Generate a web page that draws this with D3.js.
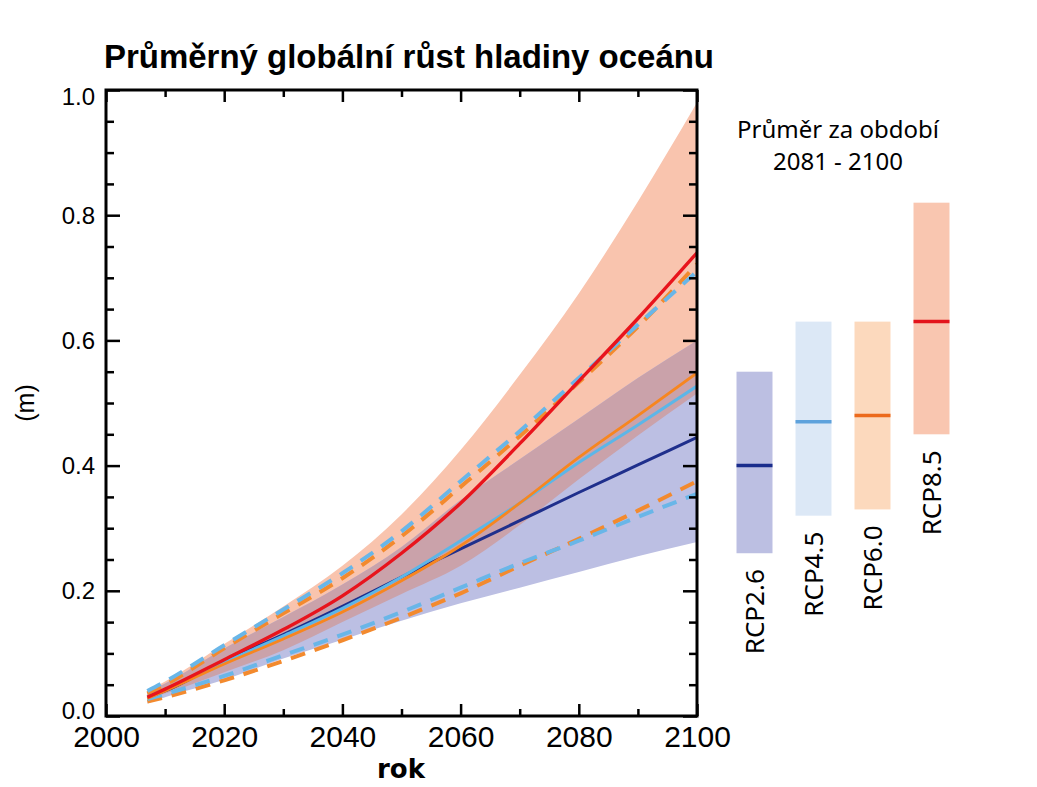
<!DOCTYPE html>
<html>
<head>
<meta charset="utf-8">
<script src="https://cdn.jsdelivr.net/npm/d3@7"></script>
<style>
  body { margin: 0; background: #fff; }
  svg { display: block; }
</style>
</head>
<body>
<svg id="viz"></svg>
<script>
// data (metres of sea level rise)
const years = [2007, 2010, 2020, 2030, 2040, 2050, 2060, 2070, 2080, 2090, 2100];

const rcp85Mean = [0.030, 0.043, 0.090, 0.138, 0.192, 0.260, 0.340, 0.435, 0.535, 0.635, 0.740];
const rcp85High = [0.040, 0.055, 0.115, 0.175, 0.240, 0.322, 0.425, 0.545, 0.675, 0.822, 0.980];
const rcp85Low  = [0.028, 0.036, 0.070, 0.105, 0.150, 0.195, 0.240, 0.305, 0.378, 0.448, 0.515];

const rcp26Mean = [0.030, 0.040, 0.088, 0.130, 0.175, 0.222, 0.267, 0.312, 0.357, 0.401, 0.445];
const rcp26High = [0.038, 0.052, 0.108, 0.158, 0.210, 0.270, 0.345, 0.410, 0.475, 0.540, 0.600];
const rcp26Low  = [0.020, 0.030, 0.058, 0.092, 0.122, 0.152, 0.180, 0.205, 0.230, 0.255, 0.278];

const rcp45Mean = [0.030, 0.042, 0.086, 0.128, 0.172, 0.222, 0.280, 0.340, 0.405, 0.465, 0.527];
const rcp45High = [0.040, 0.055, 0.113, 0.170, 0.228, 0.295, 0.375, 0.455, 0.540, 0.625, 0.710];
const rcp45Low  = [0.027, 0.035, 0.064, 0.097, 0.130, 0.166, 0.205, 0.244, 0.280, 0.318, 0.355];

const rcp60Mean = [0.028, 0.040, 0.083, 0.123, 0.166, 0.216, 0.272, 0.340, 0.413, 0.480, 0.548];
const rcp60High = [0.036, 0.050, 0.108, 0.164, 0.220, 0.287, 0.366, 0.447, 0.533, 0.622, 0.722];
const rcp60Low  = [0.023, 0.030, 0.057, 0.088, 0.121, 0.157, 0.196, 0.240, 0.283, 0.328, 0.375];

// 2081-2100 averages
const scenarios = ["RCP2.6", "RCP4.5", "RCP6.0", "RCP8.5"];
const barMean = [0.40, 0.47, 0.48, 0.63];
const barLow  = [0.26, 0.32, 0.33, 0.45];
const barHigh = [0.55, 0.63, 0.63, 0.82];

const xTicks = [2000, 2020, 2040, 2060, 2080, 2100];
const yTicks = [0.0, 0.2, 0.4, 0.6, 0.8, 1.0];

const width = 1037, height = 787;
const svg = d3.select("#viz").attr("width", width).attr("height", height);

const pLeft = 106, pRight = 697, pTop = 90, pBottom = 716;

const x = d3.scaleLinear().domain([2000, 2100]).range([pLeft, pRight]);
const y = d3.scaleLinear().domain([0, 1]).range([pBottom, pTop]);

svg.append("clipPath").attr("id", "plotclip")
  .append("rect").attr("x", pLeft).attr("y", pTop)
  .attr("width", pRight - pLeft).attr("height", pBottom - pTop);

const plot = svg.append("g").attr("clip-path", "url(#plotclip)");

// shaded ranges
const band = (lo, hi) => years.map((yr, i) => ({yr: yr, lo: lo[i], hi: hi[i]}));
const area = d3.area()
  .x(d => x(d.yr)).y0(d => y(d.lo)).y1(d => y(d.hi))
  .curve(d3.curveMonotoneX);

plot.append("path").attr("d", area(band(rcp85Low, rcp85High))).attr("fill", "#f9c4ae");
plot.append("path").attr("d", area(band(rcp26Low, rcp26High))).attr("fill", "#bcbfe3");

// where the two ranges overlap
const overlapLo = years.map((yr, i) => Math.max(rcp85Low[i], rcp26Low[i]));
const overlapHi = years.map((yr, i) => Math.min(rcp85High[i], rcp26High[i]));
plot.append("path").attr("d", area(band(overlapLo, overlapHi))).attr("fill", "#caa2aa");

const line = d3.line().x(d => x(d.yr)).y(d => y(d.v)).curve(d3.curveMonotoneX);
const series = vals => years.map((yr, i) => ({yr: yr, v: vals[i]}));

// dashed ranges of RCP4.5 and RCP6.0
[[rcp60High, "#f38a2e"], [rcp60Low, "#f38a2e"], [rcp45High, "#69b6e8"], [rcp45Low, "#69b6e8"]]
  .forEach(([vals, col]) => {
    plot.append("path").attr("d", line(series(vals)))
      .attr("fill", "none").attr("stroke", col)
      .attr("stroke-width", 4).attr("stroke-dasharray", "15,10");
  });

// means
[[rcp26Mean, "#1f2f8c", 3], [rcp45Mean, "#5cb6e8", 3], [rcp60Mean, "#f7861f", 2.8], [rcp85Mean, "#e8141c", 3.4]]
  .forEach(([vals, col, w]) => {
    plot.append("path").attr("d", line(series(vals)))
      .attr("fill", "none").attr("stroke", col).attr("stroke-width", w);
  });

// frame and ticks
const tickStyle = g => {
  g.select(".domain").remove();
  g.selectAll("line").attr("stroke", "#000").attr("stroke-width", 2.5);
};
const xMinor = d3.range(2010, 2100, 20);
const yMinor = d3.range(0.05, 1, 0.05).filter(v => Math.abs(v * 5 - Math.round(v * 5)) > 1e-6);

svg.append("g").attr("transform", `translate(0,${pBottom})`)
  .call(d3.axisBottom(x).tickValues(xTicks).tickSize(-12).tickFormat(d3.format("d")))
  .call(tickStyle)
  .call(g => g.selectAll("text").attr("y", 10).attr("font-family", "Liberation Sans Narrow, Liberation Sans")
    .attr("font-size", 30).attr("fill", "#000"));
svg.append("g").attr("transform", `translate(0,${pBottom})`)
  .call(d3.axisBottom(x).tickValues(xMinor).tickSize(-7).tickFormat(""))
  .call(tickStyle);
svg.append("g").attr("transform", `translate(0,${pTop})`)
  .call(d3.axisTop(x).tickValues(xTicks).tickSize(-12).tickFormat(""))
  .call(tickStyle);
svg.append("g").attr("transform", `translate(0,${pTop})`)
  .call(d3.axisTop(x).tickValues(xMinor).tickSize(-7).tickFormat(""))
  .call(tickStyle);

svg.append("g").attr("transform", `translate(${pLeft},0)`)
  .call(d3.axisLeft(y).tickValues(yTicks).tickSize(-14).tickFormat(d3.format(".1f")))
  .call(tickStyle)
  .call(g => g.selectAll("text").attr("x", -11).attr("font-family", "Liberation Sans")
    .attr("font-size", 24).attr("fill", "#000")
    .attr("dy", d => d === 0 ? "0.1em" : d === 1 ? "0.62em" : "0.34em"));
svg.append("g").attr("transform", `translate(${pLeft},0)`)
  .call(d3.axisLeft(y).tickValues(yMinor).tickSize(-8).tickFormat(""))
  .call(tickStyle);
svg.append("g").attr("transform", `translate(${pRight},0)`)
  .call(d3.axisRight(y).tickValues(yTicks).tickSize(-14).tickFormat(""))
  .call(tickStyle);
svg.append("g").attr("transform", `translate(${pRight},0)`)
  .call(d3.axisRight(y).tickValues(yMinor).tickSize(-8).tickFormat(""))
  .call(tickStyle);

svg.append("rect").attr("x", pLeft).attr("y", pTop)
  .attr("width", pRight - pLeft).attr("height", pBottom - pTop)
  .attr("fill", "none").attr("stroke", "#000").attr("stroke-width", 3);

// titles
svg.append("text").attr("x", 409).attr("y", 68)
  .attr("text-anchor", "middle").attr("font-family", "Liberation Sans Narrow, Liberation Sans")
  .attr("font-weight", "bold").attr("font-size", 34)
  .attr("textLength", 610).attr("lengthAdjust", "spacingAndGlyphs")
  .text("Průměrný globální růst hladiny oceánu");

svg.append("text").attr("x", 401).attr("y", 778)
  .attr("text-anchor", "middle").attr("font-family", "DejaVu Sans")
  .attr("font-weight", "bold").attr("font-size", 26)
  .text("rok");

svg.append("text").attr("transform", `translate(34,${y(0.5)}) rotate(-90)`)
  .attr("text-anchor", "middle").attr("font-family", "Liberation Sans")
  .attr("font-size", 25).text("(m)");

// right panel: 2081-2100 averages
svg.append("text").attr("x", 838).attr("y", 138)
  .attr("text-anchor", "middle").attr("font-family", "Noto Sans")
  .attr("font-size", 24).text("Průměr za období");
svg.append("text").attr("x", 838).attr("y", 170)
  .attr("text-anchor", "middle").attr("font-family", "Noto Sans")
  .attr("font-size", 24).text("2081 - 2100");

const xb = d3.scaleBand().domain(scenarios).range([725, 961])
  .paddingInner(0.39).paddingOuter(0.195);
const barFill = ["#bcbfe2", "#dce8f6", "#fcd9bd", "#f9c6b0"];
const barLine = ["#1a2d8c", "#5ea2dc", "#ec6a1c", "#e3141c"];

const bars = svg.append("g").selectAll("g")
  .data(scenarios.map((s, i) => ({s: s, i: i, lo: barLow[i], hi: barHigh[i], m: barMean[i]})))
  .enter().append("g");

bars.append("rect")
  .attr("x", d => xb(d.s)).attr("width", xb.bandwidth())
  .attr("y", d => y(d.hi)).attr("height", d => y(d.lo) - y(d.hi))
  .attr("fill", d => barFill[d.i]);

bars.append("line")
  .attr("x1", d => xb(d.s)).attr("x2", d => xb(d.s) + xb.bandwidth())
  .attr("y1", d => y(d.m)).attr("y2", d => y(d.m))
  .attr("stroke", d => barLine[d.i]).attr("stroke-width", 3.5);

bars.append("text")
  .attr("transform", d => `translate(${xb(d.s) + xb.bandwidth() / 2},${y(d.lo) + 16}) rotate(-90)`)
  .attr("text-anchor", "end").attr("dy", "0.36em")
  .attr("font-family", "Noto Sans").attr("font-size", 26)
  .text(d => d.s);
</script>
</body>
</html>
